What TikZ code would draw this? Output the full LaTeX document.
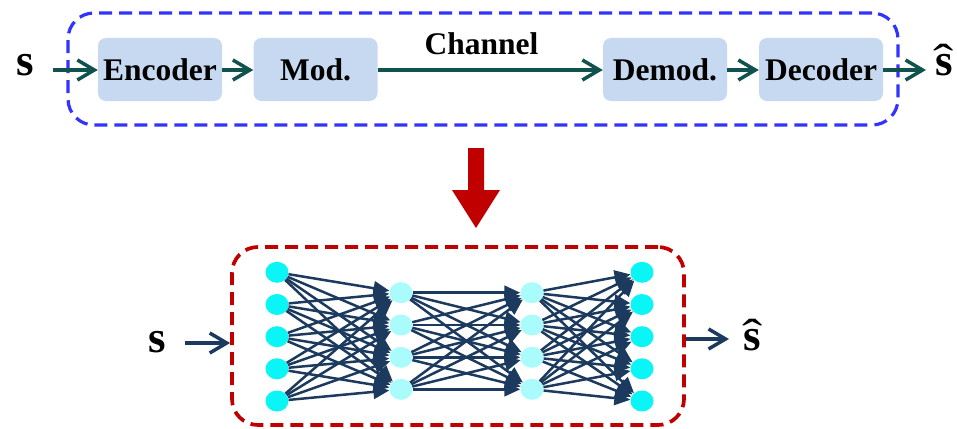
\documentclass[tikz,border=0pt]{standalone}
\usepackage{fontspec}
\usepackage{graphicx}
\setmainfont{Liberation Serif}
\usetikzlibrary{arrows.meta,shapes.geometric}
\definecolor{tealc}{RGB}{16,82,78}
\definecolor{navyc}{RGB}{27,58,94}
\definecolor{boxfill}{RGB}{198,217,240}
\definecolor{dashblue}{RGB}{51,51,255}
\definecolor{dashred}{RGB}{192,0,0}
\definecolor{cyanA}{RGB}{10,245,245}
\definecolor{cyanB}{RGB}{170,252,252}
\newcommand{\myshat}{\ooalign{s\cr\hidewidth{\mdseries\scalebox{1.35}[1]{ˆ}}\hidewidth\cr}}
\begin{document}
\begin{tikzpicture}[x=1pt,y=-1pt,
  blk/.style={fill=boxfill, rounded corners=8pt, minimum width=124pt, minimum height=63pt, inner sep=0pt, font=\fontsize{31.5}{36}\selectfont\bfseries},
  lbl/.style={inner sep=0pt, font=\fontsize{31.5}{36}\selectfont\bfseries},
  sym/.style={inner sep=0pt, anchor=base, font=\fontsize{45}{48}\selectfont\bfseries},
  tarr/.style={draw=tealc, line width=3.5pt, -{Straight Barb[length=17pt,width=20pt]}},
  narr/.style={draw=navyc, line width=3.5pt, -{Straight Barb[length=17pt,width=20pt]}},
  nedge/.style={draw=navyc, line width=2.5pt, -{Triangle[length=16pt,width=14pt]}},
  frame/.style={rectangle, rounded corners=26pt, line width=3.2pt, dash pattern=on 13pt off 7pt, inner sep=0pt},
  nA/.style={ellipse, fill=cyanA, minimum width=23pt, minimum height=21pt, inner sep=0pt},
  nB/.style={ellipse, fill=cyanB, minimum width=23pt, minimum height=21pt, inner sep=0pt}
]
\useasboundingbox (0,0) rectangle (957,428);

% top system
\node[frame, draw=dashblue, minimum width=830pt, minimum height=112pt] (sys) at (483,69) {};
\node[blk] (enc) at (160,69.5) {Encoder};
\node[blk] (mod) at (315.5,69.5) {Mod.};
\node[blk] (dem) at (665,69.5) {Demod.};
\node[blk] (dec) at (821,69.5) {Decoder};
\node[sym] (s1) at (25,75) {s};
\node[sym] (sh1) at (944,75) {\myshat};
\node[lbl, anchor=base] (chan) at (481.5,54) {Channel};
\coordinate (in1) at (53,70);
\coordinate (out1) at (926,70);
\draw[tarr] (in1) -- (in1 -| enc.west);
\draw[tarr] (enc.east |- in1) -- (in1 -| mod.west);
\draw[tarr] (mod.east |- in1) -- (in1 -| dem.west);
\draw[tarr] (dem.east |- in1) -- (in1 -| dec.west);
\draw[tarr] (dec.east |- in1) -- (out1);

% red down arrow
\fill[dashred] (468,148) -- (484,148) -- (484,190) -- (500,190) -- (476,228) -- (452,190) -- (468,190) -- cycle;

% bottom network
\node[frame, draw=dashred, line width=3.7pt, minimum width=452pt, minimum height=178pt] (net) at (458,336) {};
\foreach \i/\y in {1/272.3,2/304.5,3/336.7,4/368.8,5/401} {
  \node[nA] (a\i) at (277,\y) {};
  \node[nA] (d\i) at (642,\y) {};
}
\foreach \i/\y in {1/292.7,2/325,3/357.3,4/389.3} {
  \node[nB] (b\i) at (401,\y) {};
  \node[nB] (c\i) at (532,\y) {};
}
\foreach \i in {1,...,5} \foreach \j in {1,...,4} \draw[nedge] (a\i) -- (b\j);
\foreach \i in {1,...,4} \foreach \j in {1,...,4} \draw[nedge] (b\i) -- (c\j);
\foreach \i in {1,...,4} \foreach \j in {1,...,5} \draw[nedge] (c\i) -- (d\j);

\node[sym] (s2) at (157.5,352) {s};
\node[sym] (sh2) at (752.5,350) {\myshat};
\coordinate (in2) at (185,343);
\coordinate (out2) at (729,339);
\draw[narr] (in2) -- (in2 -| net.west);
\draw[narr] (net.east |- out2) -- (out2);
\end{tikzpicture}
\end{document}
